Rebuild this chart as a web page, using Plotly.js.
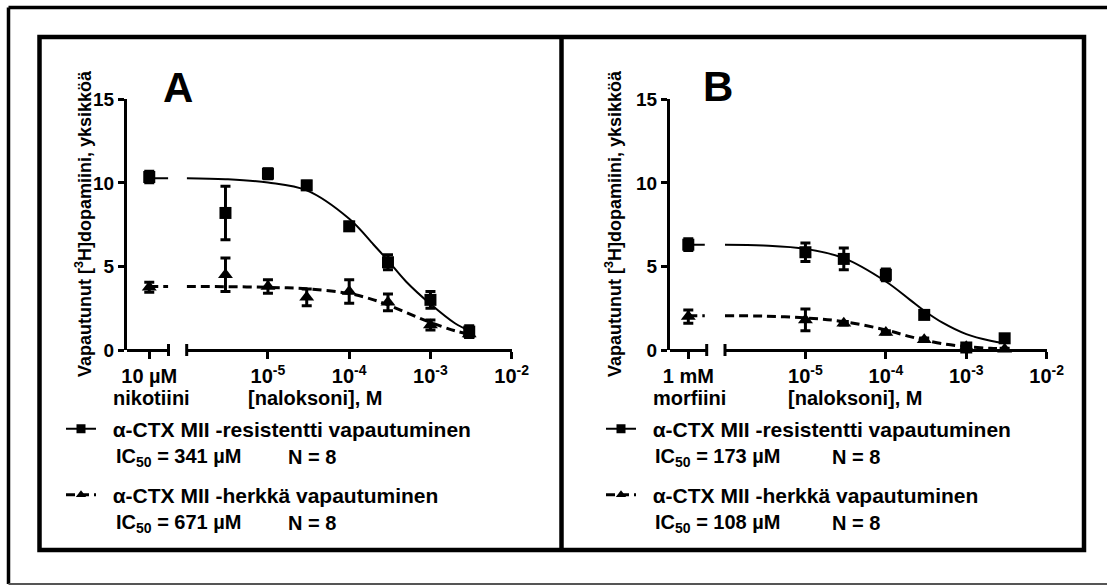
<!DOCTYPE html>
<html>
<head>
<meta charset="utf-8">
<script src="https://cdn.plot.ly/plotly-3.0.1.min.js"></script>
<style>html,body{margin:0;padding:0;background:#fff;}#chart{width:1107px;height:585px;}</style>
</head>
<body>
<div id="chart"></div>
<script>
// ---------- data ----------
const concA = [3e-6, 1e-5, 3e-5, 1e-4, 3e-4, 1e-3, 3e-3];
const resA = [8.2, 10.55, 9.85, 7.4, 5.25, 3.0, 1.1];
const resAErr = [1.6, 0.3, 0.25, 0.25, 0.45, 0.5, 0.35];
const sensA = [4.5, 3.8, 3.15, 3.5, 2.85, 1.5, 0.95];
const sensAErr = [1.0, 0.4, 0.5, 0.7, 0.5, 0.3, 0.2];
const ctrlResA = [10.35], ctrlResAErr = [0.35];
const ctrlSensA = [3.75], ctrlSensAErr = [0.3];

const concB = [1e-5, 3e-5, 1e-4, 3e-4, 1e-3, 3e-3];
const resB = [5.85, 5.45, 4.5, 2.1, 0.15, 0.7];
const resBErr = [0.55, 0.65, 0.35, 0.2, 0.1, 0.2];
const sensB = [1.8, 1.6, 1.05, 0.62, 0.2, 0.05];
const sensBErr = [0.65, 0.1, 0.1, 0.1, 0.05, 0.05];
const ctrlResB = [6.3], ctrlResBErr = [0.35];
const ctrlSensB = [2.0], ctrlSensBErr = [0.4];

// fitted curves, read at these concentrations
const curveX = [1e-6, 3e-6, 1e-5, 3e-5, 1e-4, 2e-4, 3e-4, 5e-4, 1e-3, 2e-3, 3e-3];
const fitResA = [10.28, 10.22, 10.02, 9.55, 7.85, 6.3, 5.35, 4.1, 2.75, 1.6, 1.15];
const fitSensA = [3.8, 3.79, 3.75, 3.66, 3.38, 3.0, 2.7, 2.25, 1.65, 1.15, 0.95];
const fitResB = [6.3, 6.25, 6.05, 5.5, 4.1, 3.0, 2.35, 1.65, 0.95, 0.55, 0.4];
const fitSensB = [2.05, 2.03, 1.92, 1.7, 1.2, 0.8, 0.6, 0.38, 0.2, 0.1, 0.07];

const ctrlX = [0];
const ctrlLineXA = [0, 0.85];
const ctrlLineXB = [0, 0.9];

const logTickVals = [1e-5, 1e-4, 1e-3, 1e-2];
const logTickText = ['10<sup>-5</sup>', '10<sup>-4</sup>', '10<sup>-3</sup>', '10<sup>-2</sup>'];
const yTickVals = [0, 5, 10, 15];

const legendNames = ['α-CTX MII -resistentti vapautuminen', 'α-CTX MII -herkkä vapautuminen'];
const ic50A = ['341', '671'];
const ic50B = ['173', '108'];
const nA = ['8', '8'];
const nB = ['8', '8'];

// ---------- layout helpers ----------
const W = 1107, H = 585;
const px = v => v / W;
const py = v => 1 - v / H;
const FONT = 'Liberation Sans, Arial, Helvetica, sans-serif';
const bold = (size) => ({family: FONT, size: size, color: '#000', weight: 'bold'});
const DASH = '9px,5px';

function pts(x, y, err, xa, ya, sym, size) {
  return {x: x, y: y, xaxis: xa, yaxis: ya, type: 'scatter', mode: 'markers',
    marker: {symbol: sym, size: size, color: '#000'},
    error_y: {type: 'data', array: err, visible: true, color: '#000', thickness: 3, width: 5},
    cliponaxis: false, showlegend: false, hoverinfo: 'skip'};
}
function line(x, y, xa, ya, dash, w, shape) {
  return {x: x, y: y, xaxis: xa, yaxis: ya, type: 'scatter', mode: 'lines',
    line: {color: '#000', width: w, dash: dash, shape: shape || 'linear', smoothing: 1},
    showlegend: false, hoverinfo: 'skip'};
}
function legendItem(name, sym, dash, w, leg) {
  return {x: [null], y: [null], xaxis: 'x2', yaxis: 'y', type: 'scatter', mode: 'lines+markers',
    name: '&nbsp;&nbsp;' + name, legend: leg,
    marker: {symbol: sym, size: 9, color: '#000'},
    line: {color: '#000', width: w, dash: dash}, showlegend: true};
}

const traces = [
  // Panel A
  line(curveX, fitResA, 'x2', 'y', 'solid', 2, 'spline'),
  line(curveX, fitSensA, 'x2', 'y', DASH, 3, 'spline'),
  line(ctrlLineXA, [fitResA[0], fitResA[0]], 'x', 'y', 'solid', 2),
  line(ctrlLineXA, [fitSensA[0], fitSensA[0]], 'x', 'y', DASH, 3),
  pts(concA, resA, resAErr, 'x2', 'y', 'square', 12),
  pts(concA, sensA, sensAErr, 'x2', 'y', 'triangle-up', 13),
  pts(ctrlX, ctrlResA, ctrlResAErr, 'x', 'y', 'square', 12),
  pts(ctrlX, ctrlSensA, ctrlSensAErr, 'x', 'y', 'triangle-up', 13),
  // Panel B
  line(curveX, fitResB, 'x4', 'y2', 'solid', 2, 'spline'),
  line(curveX, fitSensB, 'x4', 'y2', DASH, 3, 'spline'),
  line(ctrlLineXB, [fitResB[0], fitResB[0]], 'x3', 'y2', 'solid', 2),
  line(ctrlLineXB, [fitSensB[0], fitSensB[0]], 'x3', 'y2', DASH, 3),
  pts(concB, resB, resBErr, 'x4', 'y2', 'square', 12),
  pts(concB, sensB, sensBErr, 'x4', 'y2', 'triangle-up', 13),
  pts(ctrlX, ctrlResB, ctrlResBErr, 'x3', 'y2', 'square', 12),
  pts(ctrlX, ctrlSensB, ctrlSensBErr, 'x3', 'y2', 'triangle-up', 13),
  // legends
  legendItem(legendNames[0], 'square', 'solid', 2, 'legend'),
  legendItem(legendNames[1], 'triangle-up', DASH, 3, 'legend2'),
  legendItem(legendNames[0], 'square', 'solid', 2, 'legend3'),
  legendItem(legendNames[1], 'triangle-up', DASH, 3, 'legend4')
];

const yDom = [py(350), py(99.3)];
const axLine = {showline: true, linecolor: '#000', linewidth: 3, ticks: 'outside', ticklen: 7,
  tickwidth: 3, tickcolor: '#000', showgrid: false, zeroline: false, fixedrange: true};

function yAxis(anchor) {
  return Object.assign({}, axLine, {domain: yDom, range: [0, 15], anchor: anchor,
    tickvals: yTickVals, tickfont: bold(19), ticklen: 6});
}
function ctrlAxis(dom, range, label) {
  return Object.assign({}, axLine, {domain: dom, range: range, anchor: 'free', position: yDom[0],
    tickvals: [0], ticktext: [label], tickfont: bold(20)});
}
function logAxis(dom) {
  return Object.assign({}, axLine, {domain: dom, type: 'log', range: [-6, -2], anchor: 'free',
    position: yDom[0], tickvals: logTickVals, ticktext: logTickText, tickfont: bold(20)});
}

function legendBox(x, y) {
  return {x: px(x), xanchor: 'left', y: py(y), yanchor: 'middle', bgcolor: 'rgba(0,0,0,0)',
    borderwidth: 0, font: bold(21), itemclick: false, itemdoubleclick: false};
}

function ann(text, x, y, size, extra) {
  return Object.assign({text: text, xref: 'paper', yref: 'paper', x: px(x), y: py(y),
    xanchor: 'left', yanchor: 'middle', showarrow: false, font: bold(size)}, extra || {});
}

const annotations = [
  ann('A', 178, 87, 42, {xanchor: 'center'}),
  ann('B', 718, 86, 42, {xanchor: 'center'}),
  ann('Vapautunut [<sup>3</sup>H]dopamiini, yksikköä', 84, 224, 18, {xanchor: 'center', textangle: -90}),
  ann('Vapautunut [<sup>3</sup>H]dopamiini, yksikköä', 614, 224, 18, {xanchor: 'center', textangle: -90}),
  ann('nikotiini', 111, 398, 20),
  ann('[naloksoni], M', 246, 398, 20),
  ann('morfiini', 651, 398, 20),
  ann('[naloksoni], M', 786, 398, 20),
  ann('IC<sub>50</sub> = ' + ic50A[0] + ' µM', 114, 457, 20),
  ann('N = ' + nA[0], 286, 457, 20),
  ann('IC<sub>50</sub> = ' + ic50A[1] + ' µM', 114, 523, 20),
  ann('N = ' + nA[1], 286, 523, 20),
  ann('IC<sub>50</sub> = ' + ic50B[0] + ' µM', 653, 457, 20),
  ann('N = ' + nB[0], 830, 457, 20),
  ann('IC<sub>50</sub> = ' + ic50B[1] + ' µM', 653, 523, 20),
  ann('N = ' + nB[1], 830, 523, 20)
];

function seg(x0, y0, x1, y1, w, c) {
  return {type: 'line', xref: 'paper', yref: 'paper', x0: px(x0), y0: py(y0), x1: px(x1), y1: py(y1),
    line: {color: c || '#000', width: w}};
}
const shapes = [
  // outer frame
  seg(8.5, 7.5, 1110, 7.5, 3.5),
  seg(8.5, 7.5, 8.5, 584, 3.5),
  seg(8.5, 584, 1110, 584, 2, '#555'),
  // inner panel box
  {type: 'rect', xref: 'paper', yref: 'paper', x0: px(39.5), y0: py(37), x1: px(1084), y1: py(550),
    line: {color: '#000', width: 4.5}},
  seg(561.5, 37, 561.5, 550, 4.5),
  // axis breaks
  seg(168.5, 344, 168.5, 356, 3),
  seg(186.7, 344, 186.7, 356, 3),
  seg(706.7, 344, 706.7, 356, 3),
  seg(725, 344, 725, 356, 3)
];

const layout = {
  width: W, height: H, margin: {l: 0, r: 0, t: 0, b: 0}, paper_bgcolor: '#fff', plot_bgcolor: 'rgba(0,0,0,0)',
  font: bold(18), showlegend: true,
  xaxis: ctrlAxis([px(127), px(168.5)], [-1, 0.864], '10 µM'),
  xaxis2: logAxis([px(186.7), px(511.7)]),
  xaxis3: ctrlAxis([px(670), px(706.7)], [-1, 1.005], '1 mM'),
  xaxis4: logAxis([px(725), px(1046.7)]),
  yaxis: yAxis('x'),
  yaxis2: yAxis('x3'),
  legend: legendBox(61, 429),
  legend2: legendBox(61, 495),
  legend3: legendBox(601, 429),
  legend4: legendBox(601, 495),
  annotations: annotations,
  shapes: shapes
};

Plotly.newPlot('chart', traces, layout, {displayModeBar: false, staticPlot: true});
</script>
</body>
</html>
